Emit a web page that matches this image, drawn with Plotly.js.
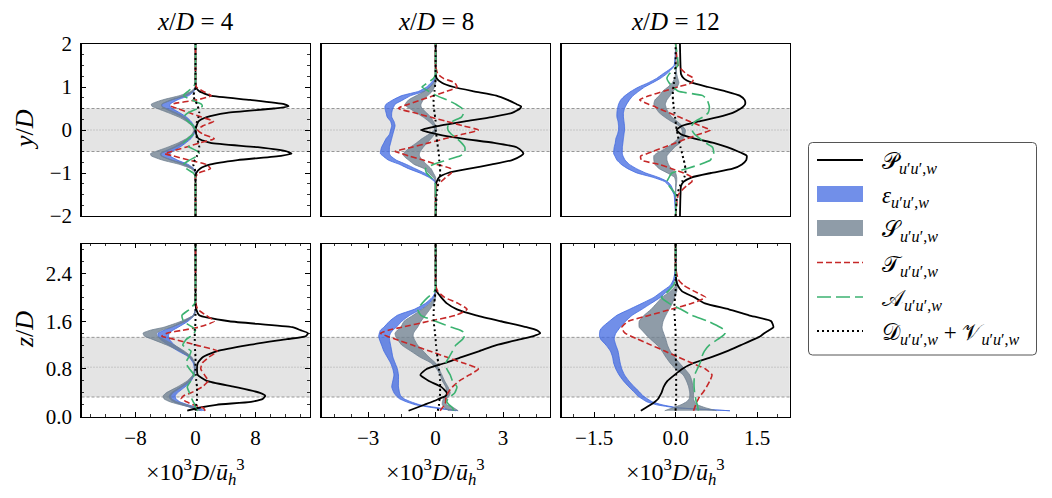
<!DOCTYPE html>
<html><head><meta charset="utf-8">
<script src="https://cdn.plot.ly/plotly-3.0.1.min.js"></script>
<style>html,body{margin:0;padding:0;background:#fff}#chart{width:1052px;height:498px}</style>
</head><body><div id="chart"></div>
<script>
// ---------- vertical coordinates ----------
const Y_TOP = [-2.0,-1.5,-1.3,-1.2,-1.1,-1.0,-0.9,-0.8,-0.7,-0.6,-0.55,-0.5,-0.4,-0.3,-0.2,-0.1,0.0,0.1,0.2,0.3,0.4,0.5,0.55,0.6,0.7,0.8,0.9,1.0,1.1,1.2,1.3,1.5,2.0];
const Z_BOT = [0.1,0.15,0.2,0.25,0.3,0.35,0.4,0.5,0.6,0.7,0.8,0.9,1.0,1.1,1.2,1.3,1.35,1.4,1.45,1.5,1.6,1.7,1.8,1.9,2.0,2.1,2.2,2.3,2.5,2.9];

// ---------- top row, x/D = 4 ----------
const P_T4 = [0,0,0,0,0,0.1,0.6,2.0,5.6,11.4,12.8,12.2,8.3,2.0,0.4,0.1,0,0.15,0.4,1.5,4.2,10.4,12.4,11.8,7.3,2.0,0.5,0.05,0,0,0,0,0];
const EPS_T4_OUT = [0,0,0,0,0,0,-0.4,-1.6,-3.3,-4.6,-4.7,-4.2,-2.9,-1.9,-1.0,-0.4,-0.1,-0.4,-1.0,-1.8,-2.9,-4.1,-4.5,-4.5,-3.3,-1.5,-0.4,0,0,0,0,0,0];
const EPS_T4_IN = [0,0,0,0,0,0,-0.2,-1.0,-2.4,-3.4,-3.4,-3.1,-2.1,-1.3,-0.6,-0.2,0,-0.2,-0.6,-1.2,-2.1,-3.1,-3.4,-3.4,-2.4,-0.9,-0.2,0,0,0,0,0,0];
const S_T4_OUT = [0,0,0,0,0,0,-0.6,-2.1,-4.4,-5.9,-6.0,-5.3,-3.7,-2.3,-1.2,-0.5,-0.2,-0.5,-1.2,-2.2,-3.6,-5.1,-5.8,-5.9,-4.4,-2.1,-0.6,0,0,0,0,0,0];
const S_T4_IN = [0,0,0,0,0,0,-0.3,-1.3,-3.1,-4.5,-4.6,-4.0,-2.7,-1.6,-0.8,-0.3,-0.1,-0.3,-0.8,-1.5,-2.6,-3.9,-4.5,-4.5,-3.1,-1.3,-0.3,0,0,0,0,0,0];
const T_T4 = [0,0,0,0,0,0.4,2.0,1.4,-0.9,-3.0,-4.1,-3.2,-1.3,0.6,2.5,1.0,0.3,1.0,2.4,0.8,-0.8,-2.4,-3.2,-3.1,0.2,2.1,1.0,0.1,0,0,0,0,0];
const A_T4 = [0,0,0,0,0,-0.3,-1.2,-1.6,-0.8,0.3,0.5,0.3,-0.8,-1.6,-1.0,-0.3,0,-0.3,-1.0,-1.6,-1.0,0.3,0.9,0.8,-0.5,-1.6,-1.0,-0.3,0,0,0,0,0];
const D_T4 = [0,0,0,0,0,0,-0.1,-0.3,-0.1,0.2,0.3,0.4,0.5,0.4,0.2,0.1,0,0.1,0.2,0.4,0.5,0.4,0.3,0.2,-0.1,-0.3,-0.1,0,0,0,0,0,0];

// ---------- top row, x/D = 8 ----------
const P_T8 = [0,0,0,0.05,0.15,0.55,1.5,2.5,3.4,3.8,3.9,3.85,3.6,2.6,1.2,0.1,-0.65,0.2,1.3,2.5,3.4,3.75,3.8,3.6,3.2,2.7,1.7,0.8,0.28,0.05,0,0,0];
const EPS_T8_OUT = [0,0,0,-0.05,-0.3,-0.7,-1.2,-1.6,-2.1,-2.35,-2.45,-2.45,-2.4,-2.3,-2.2,-2.05,-2.0,-1.95,-2.0,-2.15,-2.2,-2.25,-2.25,-2.2,-1.9,-1.5,-0.75,-0.4,-0.2,-0.05,0,0,0];
const EPS_T8_IN = [0,0,0,0,-0.2,-0.5,-0.9,-1.3,-1.75,-2.0,-2.05,-2.05,-2.05,-2.0,-1.95,-1.9,-1.85,-1.8,-1.85,-1.95,-1.95,-1.9,-1.85,-1.8,-1.45,-1.1,-0.5,-0.25,-0.1,0,0,0,0];
const S_T8_OUT = [0,0,0,0,-0.1,-0.3,-0.5,-0.95,-1.2,-1.42,-1.43,-1.35,-1.12,-0.85,-0.6,-0.3,-0.05,-0.1,-0.3,-0.55,-0.85,-1.15,-1.3,-1.35,-1.2,-0.85,-0.5,-0.25,-0.08,0,0,0,0];
const S_T8_IN = [0,0,0,0,0,-0.1,-0.2,-0.4,-0.6,-0.72,-0.72,-0.68,-0.55,-0.38,-0.2,-0.05,0.05,0,-0.1,-0.22,-0.4,-0.6,-0.65,-0.65,-0.55,-0.35,-0.15,-0.05,0,0,0,0,0];
const T_T8 = [0,0,0.05,0.25,0.45,0.7,0.68,0.05,-0.55,-1.2,-1.5,-1.8,-1.05,-0.3,0.43,1.18,1.9,1.2,0.49,-0.23,-0.94,-1.65,-1.5,-1.2,-0.65,-0.08,0.5,0.95,0.85,0.35,0.1,0,0];
const A_T8 = [0,0,0,-0.05,-0.2,-0.4,-0.45,-0.1,0.5,1.1,1.25,1.3,1.3,1.15,0.95,0.7,0.55,0.55,0.75,1.15,1.25,1.18,1.05,0.9,0.5,0.05,-0.3,-0.6,-0.35,-0.1,0,0,0];
const D_T8 = [0,0.05,0.1,0.15,0.2,0.2,0.2,0.18,0.16,0.15,0.14,0.13,0.1,0.08,0.05,0.03,0,0,0,-0.02,-0.05,-0.07,-0.08,-0.09,-0.09,-0.08,-0.05,-0.03,-0.01,0,0,0,0];

// ---------- top row, x/D = 12 ----------
const P_T12 = [0.08,0.09,0.1,0.15,0.3,0.65,1.05,1.22,1.3,1.31,1.24,1.15,0.95,0.7,0.35,0.1,0.02,0.12,0.42,0.78,1.05,1.2,1.25,1.28,1.27,1.18,0.92,0.6,0.3,0.15,0.1,0.09,0.08];
const EPS_T12_OUT = [0,-0.03,-0.12,-0.2,-0.42,-0.71,-0.88,-1.0,-1.08,-1.12,-1.14,-1.14,-1.13,-1.11,-1.1,-1.07,-1.05,-1.05,-1.06,-1.08,-1.08,-1.07,-1.06,-1.05,-1.01,-0.93,-0.82,-0.68,-0.5,-0.35,-0.24,-0.03,0];
const EPS_T12_IN = [0,-0.02,-0.08,-0.15,-0.32,-0.55,-0.72,-0.85,-0.93,-0.97,-0.98,-0.98,-0.98,-0.97,-0.96,-0.95,-0.94,-0.94,-0.95,-0.96,-0.96,-0.94,-0.92,-0.9,-0.85,-0.78,-0.68,-0.57,-0.42,-0.28,-0.17,-0.02,0];
const S_T12_OUT = [0,0,0,0,-0.02,-0.15,-0.3,-0.38,-0.4,-0.4,-0.36,-0.28,-0.15,-0.04,0.05,0.12,0.12,0.06,-0.08,-0.2,-0.3,-0.36,-0.38,-0.4,-0.38,-0.3,-0.24,-0.14,-0.06,-0.02,0,0,0];
const S_T12_IN = [0,0,0.01,0.02,0.02,0,-0.08,-0.13,-0.16,-0.16,-0.13,-0.09,-0.02,0.08,0.14,0.17,0.18,0.12,0.03,-0.07,-0.13,-0.17,-0.18,-0.19,-0.16,-0.1,-0.05,0.03,0.06,0.04,0.02,0.01,0];
const T_T12 = [0,0.05,0.2,0.3,0.3,0.15,-0.07,-0.3,-0.63,-0.64,-0.53,-0.42,-0.21,0.0,0.21,0.43,0.64,0.45,0.26,0.07,-0.12,-0.31,-0.4,-0.5,-0.66,-0.48,-0.22,0.04,0.3,0.33,0.2,0.05,0];
const A_T12 = [0,0,-0.12,-0.16,-0.12,-0.07,0.2,0.45,0.64,0.68,0.7,0.7,0.68,0.55,0.45,0.35,0.3,0.3,0.36,0.5,0.6,0.62,0.62,0.61,0.58,0.5,0.05,-0.05,-0.12,-0.16,-0.12,0.04,0];
const D_T12 = [0,0.03,0.08,0.12,0.16,0.18,0.18,0.17,0.15,0.13,0.12,0.11,0.09,0.07,0.05,0.04,0.02,0.01,0,-0.01,-0.02,-0.03,-0.04,-0.04,-0.05,-0.05,-0.05,-0.04,-0.03,-0.02,-0.01,0,0];

// ---------- bottom row, x/D = 4 ----------
const P_B4 = [-1.1,0.5,2.8,7.4,9.0,9.3,8.6,5.2,1.5,0.3,0.2,0.3,1.0,2.9,7.0,12.2,14.7,15.0,14.0,12.9,4.5,0.5,0.1,0,0,0,0,0,0,0];
const EPS_B4_OUT = [0.8,-0.5,-1.8,-2.9,-3.4,-3.5,-3.2,-2.0,-0.9,-0.3,-0.15,-0.3,-0.9,-2.3,-3.6,-4.7,-5.0,-5.0,-4.2,-3.2,-1.6,-0.3,0,0,0,0,0,0,0,0];
const EPS_B4_IN = [1.2,0.3,-1.0,-2.1,-2.6,-2.7,-2.4,-1.4,-0.6,-0.15,-0.05,-0.15,-0.6,-1.7,-2.8,-3.5,-3.6,-3.5,-3.0,-2.3,-1.0,-0.15,0,0,0,0,0,0,0,0];
const S_B4_OUT = [0.3,-0.4,-2.0,-3.4,-4.2,-4.3,-3.9,-2.4,-1.1,-0.35,-0.1,-0.2,-0.8,-2.1,-3.8,-5.8,-6.8,-7.0,-6.0,-4.2,-1.9,-0.3,0,0,0,0,0,0,0,0];
const S_B4_IN = [0.6,0.0,-1.2,-2.5,-3.2,-3.3,-3.0,-1.8,-0.7,-0.2,-0.05,-0.1,-0.5,-1.5,-2.8,-4.3,-5.1,-5.2,-4.5,-3.2,-1.3,-0.15,0,0,0,0,0,0,0,0];
const T_B4 = [1.3,1.0,-0.3,-1.2,-1.9,-1.6,-0.6,0.9,1.7,1.2,0.7,0.9,1.8,2.9,0.1,-2.9,-4.5,-3.8,-1.7,0.4,2.5,1.4,0.3,0.05,0,0,0,0,0,0];
const A_B4 = [0.3,0.0,-0.1,-0.3,-0.5,-0.6,-0.8,-1.1,-0.6,-0.2,-0.8,-1.3,-0.9,-0.6,-1.7,-1.2,-0.6,-0.2,0,-0.4,-1.6,-1.8,-0.8,-0.1,0,0,0,0,0,0];
const D_B4 = [0,0.05,0.1,0.15,0.2,0.2,0.2,0.2,0.1,0.05,0,0,0,-0.05,-0.1,-0.1,-0.1,-0.1,-0.1,-0.05,0,0,0,0,0,0,0,0,0,0];

// ---------- bottom row, x/D = 8 ----------
const P_B8 = [-1.2,-0.85,-0.5,-0.15,0.15,0.45,0.5,0.25,-0.3,-0.68,-0.4,0.43,1.15,1.95,2.7,3.8,4.35,4.65,4.5,4.05,2.9,1.8,0.95,0.5,0.25,0.05,0,0,0,0];
const EPS_B8_OUT = [0.9,-0.1,-0.9,-1.3,-1.6,-1.75,-1.85,-1.95,-1.9,-1.85,-1.9,-2.0,-2.15,-2.3,-2.4,-2.5,-2.53,-2.5,-2.45,-2.3,-2.05,-1.7,-0.95,-0.45,-0.15,0,0,0,0,0];
const EPS_B8_IN = [1.0,0.1,-0.7,-1.1,-1.4,-1.55,-1.6,-1.65,-1.65,-1.65,-1.7,-1.8,-1.9,-1.95,-2.0,-2.05,-2.05,-2.0,-1.9,-1.75,-1.5,-1.15,-0.65,-0.3,-0.08,0,0,0,0,0];
const S_B8_OUT = [0.6,0.4,0.3,0.3,0.35,0.45,0.5,0.45,0.3,0.2,0.05,-0.2,-0.7,-1.1,-1.5,-1.7,-1.78,-1.8,-1.7,-1.55,-1.4,-1.0,-0.6,-0.25,-0.05,0,0,0,0,0];
const S_B8_IN = [1.0,0.8,0.5,0.45,0.5,0.6,0.65,0.55,0.4,0.28,0.15,0.0,-0.3,-0.55,-0.8,-0.95,-1.0,-0.98,-0.9,-0.8,-0.65,-0.45,-0.25,-0.08,0,0,0,0,0,0];
const T_B8 = [0.2,0.3,0.4,0.45,0.45,0.5,0.55,0.75,1.05,1.5,1.9,1.23,0.48,-0.27,-1.03,-1.78,-2.15,-2.45,-2.1,-1.5,-0.3,0.9,1.4,1.0,0.4,0.1,0,0,0,0];
const A_B8 = [0.8,0.75,0.6,0.5,0.55,0.7,0.85,0.95,0.75,0.65,0.5,0.45,0.6,0.75,0.9,1.2,1.28,1.3,1.1,0.7,0.0,-0.65,-0.8,-0.6,-0.35,-0.05,0,0,0,0];
const D_B8 = [0.1,0.12,0.15,0.16,0.18,0.19,0.2,0.2,0.2,0.18,0.15,0.12,0.08,0.05,0.02,0,-0.01,-0.03,-0.04,-0.06,-0.08,-0.09,-0.08,-0.06,-0.03,-0.01,0,0,0,0];

// ---------- bottom row, x/D = 12 ----------
const P_B12 = [-0.64,-0.55,-0.46,-0.38,-0.32,-0.29,-0.26,-0.22,-0.15,-0.02,0.12,0.33,0.66,0.95,1.2,1.45,1.56,1.63,1.72,1.8,1.76,1.35,0.98,0.54,0.35,0.12,0.04,0.01,0,0];
const EPS_B12_OUT = [1.0,0.0,-0.35,-0.53,-0.62,-0.7,-0.75,-0.86,-0.96,-1.04,-1.1,-1.14,-1.16,-1.2,-1.28,-1.38,-1.4,-1.4,-1.39,-1.35,-1.22,-1.08,-0.85,-0.62,-0.4,-0.25,-0.1,-0.04,0,0];
const EPS_B12_IN = [1.0,0.05,-0.25,-0.43,-0.52,-0.6,-0.65,-0.76,-0.86,-0.94,-0.99,-1.02,-1.04,-1.06,-1.1,-1.13,-1.12,-1.1,-1.06,-1.02,-0.92,-0.8,-0.62,-0.45,-0.28,-0.16,-0.06,-0.02,0,0];
const S_B12_OUT = [-0.2,-0.05,0.1,0.2,0.25,0.26,0.26,0.24,0.2,0.14,0.0,-0.1,-0.18,-0.25,-0.34,-0.46,-0.52,-0.57,-0.62,-0.67,-0.67,-0.58,-0.45,-0.35,-0.25,-0.1,0,0,0,0];
const S_B12_IN = [0.75,0.55,0.4,0.35,0.33,0.33,0.33,0.32,0.3,0.26,0.17,0.07,-0.02,-0.1,-0.15,-0.18,-0.2,-0.22,-0.24,-0.25,-0.23,-0.18,-0.12,-0.06,-0.02,0.02,0.03,0.02,0,0];
const T_B12 = [0.33,0.35,0.37,0.39,0.42,0.45,0.5,0.57,0.63,0.67,0.55,0.3,0.05,-0.2,-0.45,-0.7,-0.82,-0.93,-0.97,-0.99,-0.87,-0.48,-0.09,0.3,0.55,0.35,0.15,0.05,0,0];
const A_B12 = [0.42,0.41,0.4,0.38,0.37,0.36,0.35,0.34,0.34,0.35,0.4,0.45,0.48,0.53,0.62,0.78,0.86,0.91,0.9,0.82,0.6,0.3,0.1,-0.12,-0.26,-0.14,-0.04,0,0,0];
const D_B12 = [0,0,0,0.01,0.01,0.01,0.01,0.01,0.01,0.01,0.01,0.01,0,0,0,0,0,0,0,-0.01,-0.01,-0.02,-0.02,-0.02,-0.01,0,0,0,0,0];

// ---------- labels ----------
const COL_TITLES = ['<i>x</i>/<i>D</i> = 4', '<i>x</i>/<i>D</i> = 8', '<i>x</i>/<i>D</i> = 12'];
const ROW_TITLES = ['<i>y</i>/<i>D</i>', '<i>z</i>/<i>D</i>'];
const X_TITLE = '×10<sup>3</sup><i>D</i>/<i>ū</i><sub><i>h</i></sub><sup>3</sup>';
const SUB = '<sub><i>u</i>′<i>u</i>′,<i>w</i></sub>';
const LEGEND_LABELS = ['𝒫'+SUB, '<i>ε</i>'+SUB, '𝒮'+SUB, '𝒯'+SUB, '𝒜'+SUB, '𝒟'+SUB+' + 𝒱'+SUB];
const X_RANGES = [[-15.2,15.2],[-5.07,5.07],[-2.1,2.1]];
const X_DTICK = [8,3,1.5];
const X_MINOR = [2,0.75,0.375];
const X_FMT = ['d','d','.1f'];

// ---------- build ----------
const PANELS = [
 {y:Y_TOP,P:P_T4,EO:EPS_T4_OUT,EI:EPS_T4_IN,SO:S_T4_OUT,SI:S_T4_IN,T:T_T4,A:A_T4,D:D_T4},
 {y:Y_TOP,P:P_T8,EO:EPS_T8_OUT,EI:EPS_T8_IN,SO:S_T8_OUT,SI:S_T8_IN,T:T_T8,A:A_T8,D:D_T8},
 {y:Y_TOP,P:P_T12,EO:EPS_T12_OUT,EI:EPS_T12_IN,SO:S_T12_OUT,SI:S_T12_IN,T:T_T12,A:A_T12,D:D_T12},
 {y:Z_BOT,P:P_B4,EO:EPS_B4_OUT,EI:EPS_B4_IN,SO:S_B4_OUT,SI:S_B4_IN,T:T_B4,A:A_B4,D:D_B4},
 {y:Z_BOT,P:P_B8,EO:EPS_B8_OUT,EI:EPS_B8_IN,SO:S_B8_OUT,SI:S_B8_IN,T:T_B8,A:A_B8,D:D_B8},
 {y:Z_BOT,P:P_B12,EO:EPS_B12_OUT,EI:EPS_B12_IN,SO:S_B12_OUT,SI:S_B12_IN,T:T_B12,A:A_B12,D:D_B12}
];

const W = 1052, H = 498;
const px = v => v / W, py = v => 1 - v / H;
const FONT = 'Liberation Serif, DejaVu Serif, serif';
const XDOM = [[px(81.5),px(309.5)],[px(321.5),px(549.7)],[px(561.5),px(789.7)]];
const YDOM = [[py(216),py(44)],[py(416.7),py(243.7)]];
const XC = [195.5,435.6,675.6];
const TICK_SIZE = 21;

const C_EPS_F = 'rgba(65,105,225,0.75)', C_EPS_L = 'rgb(65,105,225)';
const C_S_F = 'rgba(112,128,144,0.78)', C_S_L = 'rgb(112,128,144)';
const ST_P = {color:'#000',width:1.8};
const ST_T = {color:'#c62828',width:1.6,dash:'6px,3px'};
const ST_A = {color:'#3cb371',width:1.6,dash:'14px,5px'};
const ST_D = {color:'#000',width:2,dash:'2px,3px'};

const data = [];
const layout = {
  width:W, height:H, margin:{l:0,r:0,t:0,b:0},
  paper_bgcolor:'#fff', plot_bgcolor:'#fff', showlegend:false,
  font:{family:FONT,size:TICK_SIZE,color:'#000'},
  shapes:[], annotations:[]
};

PANELS.forEach((p,i)=>{
  const n = i+1, row = i<3?0:1, col = i%3;
  const xa = 'x'+(n>1?n:''), ya = 'y'+(n>1?n:'');
  const yy = p.y;
  const band = (o,inn,fc,lc)=>({type:'scatter',mode:'lines',
    x:o.concat(inn.slice().reverse()), y:yy.concat(yy.slice().reverse()),
    fill:'toself', fillcolor:fc, line:{color:lc,width:0.8,shape:'spline',smoothing:0.5},
    xaxis:xa, yaxis:ya, hoverinfo:'skip'});
  const ln = (xs,st)=>({type:'scatter',mode:'lines',x:xs,y:yy,xaxis:xa,yaxis:ya,hoverinfo:'skip',
    line:Object.assign({shape:'spline',smoothing:0.5},st)});
  data.push(band(p.EO,p.EI,C_EPS_F,C_EPS_L));
  data.push(band(p.SO,p.SI,C_S_F,C_S_L));
  data.push(ln(p.P,ST_P));
  data.push(ln(p.T,ST_T));
  data.push(ln(p.A,ST_A));
  data.push(ln(p.D,ST_D));

  layout['xaxis'+(n>1?n:'')] = {
    domain:XDOM[col], range:X_RANGES[col], anchor:ya, showgrid:false, zeroline:false,
    showline:true, linecolor:'#000', linewidth:1.2, mirror: row===1?'allticks':true,
    ticks: row===1?'inside':'', ticklen:4.5, tickwidth:1, tickcolor:'#000',
    showticklabels: row===1, tickmode:'linear', tick0:0, dtick:X_DTICK[col], tickformat:X_FMT[col],
    tickfont:{family:FONT,size:TICK_SIZE,color:'#000'}, ticklabelstandoff:2,
    minor: row===1 ? {ticks:'inside',ticklen:2.5,tickwidth:0.8,tickcolor:'#000',dtick:X_MINOR[col],tick0:0} : {ticks:''},
    fixedrange:true
  };
  layout['yaxis'+(n>1?n:'')] = {
    domain:YDOM[row], range: row===0?[-2,2]:[0,2.9], anchor:xa, showgrid:false, zeroline:false,
    showline:true, linecolor:'#000', linewidth:1.2, mirror: col===0?'allticks':true,
    ticks: col===0?'inside':'', ticklen:4.5, tickwidth:1, tickcolor:'#000',
    showticklabels: col===0, tickmode:'linear', tick0:0, dtick: row===0?1:0.8, tickformat: row===0?'d':'.1f',
    tickfont:{family:FONT,size:TICK_SIZE,color:'#000'}, ticklabelstandoff:4,
    minor: col===0 ? {ticks:'inside',ticklen:2.5,tickwidth:0.8,tickcolor:'#000',dtick: row===0?0.25:0.2,tick0:0} : {ticks:''},
    fixedrange:true
  };

  // rotor band
  const lo = row===0?-0.5:0.33, hi = row===0?0.5:1.33, mid = (lo+hi)/2;
  layout.shapes.push({type:'rect',xref:xa+' domain',yref:ya,x0:0,x1:1,y0:lo,y1:hi,fillcolor:'#e4e4e4',line:{width:0},layer:'below'});
  [lo,hi].forEach(v=>layout.shapes.push({type:'line',xref:xa+' domain',yref:ya,x0:0,x1:1,y0:v,y1:v,line:{color:'#8c8c8c',width:0.9,dash:'3px,2px'},layer:'below'}));
  layout.shapes.push({type:'line',xref:xa+' domain',yref:ya,x0:0,x1:1,y0:mid,y1:mid,line:{color:'#a0a0a0',width:0.9,dash:'1px,2px'},layer:'below'});
});

// titles
COL_TITLES.forEach((t,c)=>layout.annotations.push({text:t,xref:'paper',yref:'paper',x:px(XC[c]),y:py(22),xanchor:'center',yanchor:'middle',showarrow:false,font:{family:FONT,size:25,color:'#000'}}));
XC.forEach(xc=>layout.annotations.push({text:X_TITLE,xref:'paper',yref:'paper',x:px(xc),y:py(472),xanchor:'center',yanchor:'middle',showarrow:false,font:{family:FONT,size:24,color:'#000'}}));
[130,330].forEach((yc,r)=>layout.annotations.push({text:ROW_TITLES[r],xref:'paper',yref:'paper',x:px(24),y:py(yc),xanchor:'center',yanchor:'middle',textangle:-90,showarrow:false,font:{family:FONT,size:26,color:'#000'}}));

// custom legend box
const LX0=808.5, LX1=1036.5, LY0=142.5, LY1=355, R=4;
const path = `M ${px(LX0+R)} ${py(LY0)} L ${px(LX1-R)} ${py(LY0)} Q ${px(LX1)} ${py(LY0)} ${px(LX1)} ${py(LY0+R)} L ${px(LX1)} ${py(LY1-R)} Q ${px(LX1)} ${py(LY1)} ${px(LX1-R)} ${py(LY1)} L ${px(LX0+R)} ${py(LY1)} Q ${px(LX0)} ${py(LY1)} ${px(LX0)} ${py(LY1-R)} L ${px(LX0)} ${py(LY0+R)} Q ${px(LX0)} ${py(LY0)} ${px(LX0+R)} ${py(LY0)} Z`;
layout.shapes.push({type:'path',xref:'paper',yref:'paper',path:path,fillcolor:'rgba(255,255,255,0.9)',line:{color:'#555',width:1}});
const LEG_Y = [160,194,228,262.5,297,331];
const SX0=817, SX1=863;
layout.shapes.push({type:'line',xref:'paper',yref:'paper',x0:px(SX0),x1:px(SX1),y0:py(LEG_Y[0]),y1:py(LEG_Y[0]),line:ST_P});
layout.shapes.push({type:'rect',xref:'paper',yref:'paper',x0:px(SX0),x1:px(SX1),y0:py(LEG_Y[1]-8),y1:py(LEG_Y[1]+8),fillcolor:C_EPS_F,line:{width:0}});
layout.shapes.push({type:'rect',xref:'paper',yref:'paper',x0:px(SX0),x1:px(SX1),y0:py(LEG_Y[2]-8),y1:py(LEG_Y[2]+8),fillcolor:C_S_F,line:{width:0}});
layout.shapes.push({type:'line',xref:'paper',yref:'paper',x0:px(SX0),x1:px(SX1),y0:py(LEG_Y[3]),y1:py(LEG_Y[3]),line:ST_T});
layout.shapes.push({type:'line',xref:'paper',yref:'paper',x0:px(SX0),x1:px(SX1),y0:py(LEG_Y[4]),y1:py(LEG_Y[4]),line:ST_A});
layout.shapes.push({type:'line',xref:'paper',yref:'paper',x0:px(SX0),x1:px(SX1),y0:py(LEG_Y[5]),y1:py(LEG_Y[5]),line:ST_D});
LEGEND_LABELS.forEach((t,k)=>layout.annotations.push({text:t,xref:'paper',yref:'paper',x:px(880),y:py(LEG_Y[k]+3),xanchor:'left',yanchor:'middle',showarrow:false,font:{family:FONT,size:23,color:'#000'}}));

Plotly.newPlot('chart', data, layout, {staticPlot:true, displayModeBar:false});
</script>
</body></html>
